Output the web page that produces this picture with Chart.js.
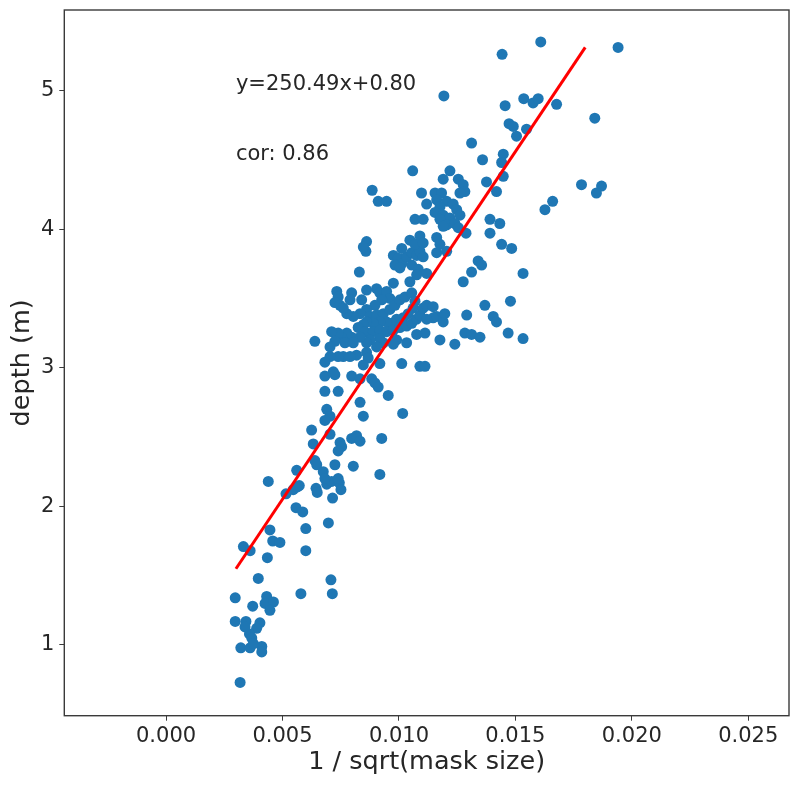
<!DOCTYPE html>
<html>

<head>
    <title>Depth vs 1 / sqrt(mask size)</title>
    <script src="https://cdn.jsdelivr.net/npm/chart.js"></script>
    <style>
        body { margin: 0; background: #fff; }
        canvas { display: block; }
    </style>
</head>

<body>
    <canvas id="depth-chart" width="800" height="789"></canvas>

    <script>
        // scatter values: x = 1 / sqrt(mask size), y = depth (m)
        const invSqrtMask = [
            0.00439, 0.00515, 0.00546, 0.00564, 0.00572, 0.00644, 0.00649, 0.00690, 0.00711, 0.00744,
            0.00751, 0.00715, 0.00558, 0.00587, 0.00697, 0.00446, 0.00600, 0.00458, 0.00489, 0.00332,
            0.00361, 0.00600, 0.00435, 0.00396, 0.00708, 0.00714, 0.00579, 0.00297, 0.00372, 0.00432,
            0.00425, 0.00461, 0.00446, 0.00297, 0.00343, 0.00403, 0.00389, 0.00358, 0.00368, 0.00339,
            0.00321, 0.00361, 0.00411, 0.00411, 0.00375, 0.00318,
            0.00858, 0.00976, 0.00997, 0.01012, 0.01033, 0.01055, 0.01076, 0.01090, 0.01104, 0.00983,
            0.01004, 0.01055, 0.01083, 0.01076, 0.01119, 0.01162, 0.01205, 0.00830, 0.00976, 0.01047,
            0.01276, 0.01312, 0.01340, 0.01355,
            0.00733, 0.00739, 0.00725, 0.00747, 0.00797, 0.00790, 0.00840, 0.00861, 0.00904, 0.00918,
            0.00947, 0.00961, 0.00926, 0.00897, 0.00861, 0.00833, 0.00804, 0.00776, 0.00761, 0.00876,
            0.00904, 0.00933, 0.00961, 0.00983, 0.01004, 0.01026, 0.01055, 0.01069, 0.01061, 0.01040,
            0.01018, 0.00990, 0.00969, 0.00947, 0.00918, 0.00890, 0.00861, 0.00847, 0.00825, 0.00854,
            0.00890, 0.00918, 0.00947, 0.00976, 0.01004, 0.01033, 0.01055, 0.01076, 0.01090, 0.01104,
            0.01119, 0.01147, 0.01162, 0.01190, 0.01197, 0.01147, 0.01119, 0.01112, 0.01076, 0.01033,
            0.00990, 0.00976, 0.00933, 0.00918, 0.00904, 0.00876, 0.00861, 0.00833, 0.00797, 0.00776,
            0.00754, 0.00739, 0.00711, 0.00725, 0.00704, 0.00768, 0.00804, 0.00761, 0.00739, 0.00704,
            0.00682, 0.00818, 0.00790, 0.00861, 0.00868, 0.00847, 0.00918, 0.00639, 0.00682, 0.00718,
            0.00725, 0.00682, 0.00739, 0.00797, 0.00833, 0.00883, 0.00897, 0.00911, 0.00954, 0.01012,
            0.01090, 0.01112, 0.01176, 0.01240, 0.01291, 0.01283, 0.01312, 0.01348,
            0.00833, 0.00847, 0.01016, 0.00690, 0.00704, 0.00682, 0.00625, 0.00632, 0.00704, 0.00797,
            0.00818, 0.00833, 0.00747, 0.00754, 0.00739, 0.00926, 0.00639, 0.00647, 0.00725, 0.00804,
            0.00675, 0.00682, 0.00739, 0.00918, 0.00561,
            0.01312, 0.01359, 0.01448, 0.01441, 0.01448, 0.01376, 0.01419, 0.01059, 0.01219, 0.01190,
            0.01255, 0.01276, 0.01283, 0.01262, 0.00885, 0.00911, 0.00947, 0.01097, 0.01155, 0.01183,
            0.01119, 0.01162, 0.01205, 0.01233, 0.01248, 0.01262, 0.01176, 0.01155, 0.01190, 0.01219,
            0.01176, 0.01205, 0.01240, 0.01255, 0.01069, 0.01104, 0.01190, 0.01391, 0.01433, 0.01391,
            0.01288, 0.01441, 0.01484, 0.00861, 0.00847, 0.01047, 0.01090, 0.01069, 0.01104, 0.01162,
            0.01176, 0.01012,
            0.01533, 0.01479, 0.01369, 0.01405, 0.01419, 0.01469, 0.01533,
            0.01609, 0.01443, 0.01941, 0.01193, 0.01456, 0.01536, 0.01576, 0.01598, 0.01677, 0.01841,
            0.01473, 0.01491, 0.01505, 0.01548, 0.01784, 0.01870, 0.01848, 0.01660, 0.01627
        ];
        const depth = [
            2.18, 2.09, 2.12, 2.14, 2.15, 2.13, 2.10, 2.16, 2.18, 2.17,
            2.12, 2.06, 1.99, 1.96, 1.88, 1.83, 1.84, 1.75, 1.74, 1.71,
            1.68, 1.68, 1.63, 1.48, 1.47, 1.37, 1.37, 1.34, 1.28, 1.35,
            1.30, 1.31, 1.25, 1.17, 1.17, 1.16, 1.12, 1.08, 1.05, 1.13,
            0.98, 0.98, 0.99, 0.95, 1.01, 0.73,
            3.84, 3.81, 3.79, 3.75, 3.80, 3.83, 3.81, 3.84, 3.80, 3.74,
            3.72, 3.74, 3.71, 3.67, 3.68, 3.83, 3.84, 3.69, 3.61, 3.62,
            3.62, 3.69, 3.77, 3.74,
            3.55, 3.51, 3.47, 3.45, 3.54, 3.49, 3.49, 3.56, 3.57, 3.54,
            3.55, 3.50, 3.49, 3.45, 3.42, 3.39, 3.37, 3.39, 3.43, 3.37,
            3.38, 3.39, 3.42, 3.45, 3.49, 3.51, 3.54, 3.48, 3.43, 3.39,
            3.36, 3.35, 3.32, 3.33, 3.33, 3.32, 3.33, 3.31, 3.29, 3.26,
            3.26, 3.27, 3.26, 3.27, 3.29, 3.30, 3.32, 3.35, 3.38, 3.43,
            3.45, 3.44, 3.37, 3.33, 3.39, 3.36, 3.35, 3.25, 3.24, 3.18,
            3.20, 3.17, 3.18, 3.21, 3.15, 3.20, 3.18, 3.22, 3.22, 3.25,
            3.22, 3.25, 3.26, 3.19, 3.15, 3.18, 3.18, 3.08, 3.08, 3.08,
            3.04, 3.09, 3.08, 3.11, 3.07, 3.02, 3.03, 3.19, 2.94, 2.97,
            2.95, 2.83, 2.83, 2.94, 2.92, 2.92, 2.89, 2.86, 2.80, 3.03,
            3.01, 3.01, 3.20, 3.17, 3.38, 3.25, 3.24, 3.22,
            2.75, 2.65, 2.67, 2.70, 2.65, 2.62, 2.55, 2.45, 2.52, 2.49,
            2.51, 2.47, 2.46, 2.43, 2.40, 2.49, 2.33, 2.30, 2.30, 2.29,
            2.25, 2.20, 2.20, 2.23, 2.26,
            4.62, 4.50, 4.54, 4.48, 4.38, 4.34, 4.27, 4.42, 4.42, 4.36,
            4.36, 4.32, 4.27, 4.26, 4.28, 4.20, 4.20, 4.26, 4.26, 4.26,
            4.18, 4.21, 4.20, 4.18, 4.14, 4.10, 4.16, 4.12, 4.10, 4.08,
            4.07, 4.03, 4.04, 4.01, 4.07, 4.07, 4.02, 4.07, 4.04, 3.97,
            3.97, 3.89, 3.86, 3.91, 3.87, 3.92, 3.95, 3.89, 3.90, 3.94,
            3.89, 3.86,
            3.68, 3.48, 3.45, 3.37, 3.33, 3.25, 3.21,
            5.35, 5.26, 5.31, 4.96, 4.89, 4.94, 4.91, 4.94, 4.90, 4.80,
            4.76, 4.74, 4.67, 4.72, 4.32, 4.31, 4.26, 4.20, 4.14
        ];

        // fitted line end points (y=250.49x+0.80)
        const fitX = [0.003, 0.018];
        const fitY = [1.55, 5.31];

        // text written on the plot, placed in data units
        const noteText = ['y=250.49x+0.80', 'cor: 0.86'];
        const noteX = [0.003, 0.003];
        const noteY = [5.0, 4.5];

        // axis ranges and ticks
        const xRange = [-0.00437, 0.02675];
        const yRange = [0.49, 5.58];
        const xTicks = [0.000, 0.005, 0.010, 0.015, 0.020, 0.025];
        const yTicks = [1, 2, 3, 4, 5];

        const textColor = '#262626';
        const frameColor = '#3a3a3a';

        // box round the plot area and the two text notes
        const framePlugin = {
            id: 'frame',
            afterDatasetsDraw(chart) {
                const { ctx, chartArea, scales } = chart;
                ctx.save();
                ctx.strokeStyle = frameColor;
                ctx.lineWidth = 1.4;
                ctx.strokeRect(chartArea.left, chartArea.top,
                    chartArea.right - chartArea.left, chartArea.bottom - chartArea.top);

                ctx.fillStyle = textColor;
                ctx.font = '21px "DejaVu Sans"';
                ctx.textAlign = 'left';
                ctx.textBaseline = 'alphabetic';
                noteText.forEach((t, i) => {
                    ctx.fillText(t, scales.x.getPixelForValue(noteX[i]), scales.y.getPixelForValue(noteY[i]));
                });
                ctx.restore();
            }
        };

        const points = invSqrtMask.map((x, i) => ({ x: x, y: depth[i] }));
        const fitLine = fitX.map((x, i) => ({ x: x, y: fitY[i] }));

        const ctx = document.getElementById('depth-chart').getContext('2d');
        new Chart(ctx, {
            type: 'scatter',
            data: {
                datasets: [
                    {
                        type: 'line',
                        data: fitLine,
                        borderColor: '#ff0000',
                        borderWidth: 3,
                        pointRadius: 0,
                        fill: false,
                        order: 0
                    },
                    {
                        data: points,
                        backgroundColor: '#1f77b4',
                        borderWidth: 0,
                        pointRadius: 5.5,
                        order: 1
                    }
                ]
            },
            options: {
                responsive: false,
                animation: false,
                layout: { padding: { left: 0, top: 10, right: 11, bottom: 0 } },
                plugins: {
                    legend: { display: false },
                    tooltip: { enabled: false }
                },
                scales: {
                    x: {
                        type: 'linear',
                        min: xRange[0],
                        max: xRange[1],
                        afterBuildTicks(scale) { scale.ticks = xTicks.map(v => ({ value: v })); },
                        afterFit(scale) {
                            scale.height = 73.3;
                            scale.paddingLeft = 0;
                            scale.paddingRight = 0;
                        },
                        grid: { drawOnChartArea: false, tickLength: 5, color: frameColor },
                        border: { display: false },
                        ticks: {
                            callback: v => v.toFixed(3),
                            font: { family: 'DejaVu Sans', size: 21 },
                            color: textColor,
                            padding: 3,
                            maxRotation: 0,
                            autoSkip: false
                        },
                        title: {
                            display: true,
                            text: '1 / sqrt(mask size)',
                            font: { family: 'DejaVu Sans', size: 25.5 },
                            color: textColor,
                            padding: { top: 0, bottom: 11 }
                        }
                    },
                    y: {
                        type: 'linear',
                        min: yRange[0],
                        max: yRange[1],
                        afterBuildTicks(scale) { scale.ticks = yTicks.map(v => ({ value: v })); },
                        afterFit(scale) {
                            scale.width = 64.3;
                            scale.paddingTop = 0;
                            scale.paddingBottom = 0;
                        },
                        grid: { drawOnChartArea: false, tickLength: 5, color: frameColor },
                        border: { display: false },
                        ticks: {
                            callback: v => String(v),
                            font: { family: 'DejaVu Sans', size: 21 },
                            color: textColor,
                            padding: 5,
                            autoSkip: false
                        },
                        title: {
                            display: true,
                            text: 'depth (m)',
                            font: { family: 'DejaVu Sans', size: 25.5 },
                            color: textColor,
                            padding: { top: 7, bottom: 0 }
                        }
                    }
                }
            },
            plugins: [framePlugin]
        });
    </script>
</body>

</html>
